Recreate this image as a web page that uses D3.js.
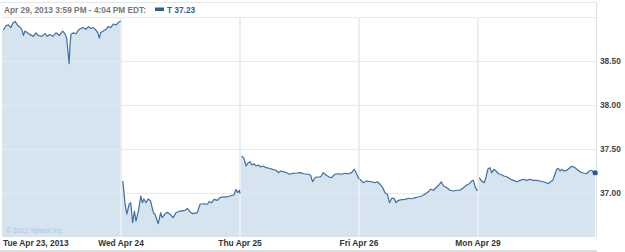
<!DOCTYPE html>
<html><head><meta charset="utf-8">
<script src="https://cdn.jsdelivr.net/npm/d3@7"></script>
<style>
html,body{margin:0;padding:0;background:#fff;}
svg{display:block;font-family:"Liberation Sans",Arial,sans-serif;}
</style></head>
<body><svg id="c" width="625" height="252"></svg>
<script>
// ---- data (minutes since 9:30 open, price) ----
const dayLabels = ["Tue Apr 23, 2013","Wed Apr 24","Thu Apr 25","Fri Apr 26","Mon Apr 29"];
const yTicks = [37.0, 37.5, 38.0, 38.5];
const headerText = "Apr 29, 2013 3:59 PM - 4:04 PM EDT:";
const symbol = "T";
const lastPrice = 37.23;
const copyright = "\u00A9 2013 Yahoo! Inc.";

const tue = [[4,38.85],[13,38.90],[21,38.91],[29,38.88],[35,38.93],[43,38.95],[50,38.91],[57,38.89],[65,38.86],[70,38.79],[75,38.84],[83,38.82],[92,38.80],[103,38.78],[111,38.82],[119,38.79],[130,38.78],[141,38.81],[148,38.78],[157,38.80],[166,38.78],[177,38.82],[188,38.79],[199,38.84],[206,38.81],[212,38.76],[215,38.65],[220,38.47],[223,38.69],[226,38.80],[234,38.82],[243,38.81],[250,38.85],[258,38.87],[266,38.88],[275,38.86],[283,38.89],[291,38.87],[299,38.88],[308,38.85],[314,38.82],[319,38.76],[323,38.82],[332,38.84],[341,38.86],[348,38.89],[356,38.88],[365,38.92],[374,38.91],[381,38.94],[389,38.95]];
const wed = [[6,37.136],[13,36.89],[19,36.761],[27,36.875],[32,36.89],[38,36.662],[44,36.795],[49,36.682],[57,36.795],[65,36.966],[70,36.89],[75,36.932],[82,36.89],[89,36.932],[97,36.909],[106,36.776],[111,36.761],[122,36.651],[130,36.776],[135,36.719],[144,36.761],[152,36.781],[161,36.758],[171,36.719],[180,36.776],[193,36.795],[210,36.803],[217,36.826],[226,36.788],[235,36.765],[250,36.776],[259,36.872],[272,36.878],[283,36.872],[289,36.901],[297,36.89],[305,36.928],[316,36.917],[324,36.947],[335,36.955],[346,36.955],[357,36.966],[370,36.977],[377,37.042],[382,37.003],[388,37.031],[390,36.992]];
const thu = [[6,37.42],[13,37.394],[20,37.307],[27,37.344],[33,37.356],[39,37.318],[46,37.333],[52,37.307],[60,37.318],[68,37.295],[76,37.307],[85,37.288],[96,37.281],[107,37.269],[118,37.258],[126,37.231],[133,37.25],[142,37.242],[153,37.231],[162,37.213],[173,37.224],[186,37.227],[197,37.231],[210,37.219],[224,37.213],[231,37.205],[238,37.128],[246,37.174],[253,37.182],[264,37.182],[273,37.231],[282,37.205],[292,37.182],[300,37.174],[311,37.213],[322,37.219],[333,37.213],[344,37.224],[355,37.219],[366,37.231],[374,37.269],[379,37.242],[388,37.174],[390,37.156]];
const fri = [[3,37.156],[14,37.117],[25,37.136],[42,37.128],[52,37.117],[60,37.128],[69,37.099],[78,37.06],[85,37.003],[93,36.985],[100,36.89],[107,36.94],[115,36.94],[121,36.89],[129,36.917],[140,36.924],[151,36.928],[162,36.94],[173,36.935],[184,36.947],[194,36.955],[205,36.966],[216,36.985],[227,37.015],[235,37.042],[244,37.031],[255,37.068],[263,37.099],[270,37.125],[277,37.08],[288,37.06],[298,37.031],[309,37.023],[320,37.031],[331,37.031],[342,37.06],[353,37.091],[362,37.106],[369,37.136],[375,37.144],[380,37.08],[386,37.031],[390,37.031]];
const mon = [[4,37.174],[12,37.136],[20,37.117],[26,37.174],[32,37.269],[39,37.288],[45,37.231],[52,37.269],[59,37.25],[67,37.219],[74,37.213],[85,37.193],[96,37.182],[107,37.156],[116,37.144],[127,37.128],[138,37.144],[148,37.156],[160,37.144],[170,37.156],[181,37.144],[192,37.144],[203,37.136],[214,37.128],[223,37.117],[231,37.106],[238,37.128],[245,37.144],[252,37.213],[258,37.269],[263,37.281],[269,37.25],[274,37.269],[282,37.25],[291,37.258],[299,37.281],[307,37.303],[315,37.295],[324,37.269],[334,37.242],[345,37.227],[356,37.219],[365,37.25],[373,37.258],[380,37.231],[384,37.23]];
const days = [tue, wed, thu, fri, mon];

// ---- drawing ----
const SESSION = 390;
const svg = d3.select("#c");
const x = d3.scaleLinear().domain([0, SESSION * days.length]).range([2, 597]);
const y = d3.scaleLinear().domain([36.5, 39.0]).range([237, 17]);
const grid = "#e3eaf1";

// frame
svg.append("line").attr("x1",0).attr("x2",597).attr("y1",2.5).attr("y2",2.5).attr("stroke","#e1e7ed");
svg.append("line").attr("x1",596.5).attr("x2",596.5).attr("y1",2).attr("y2",237).attr("stroke","#d9e1e9");

const area = d3.area().x(d=>d[0]).y0(y(36.5)).y1(d=>d[1]);
const line = d3.line().x(d=>d[0]).y(d=>d[1]);

days.forEach((pts,i)=>{
  const p = pts.map(d=>[x(i*SESSION + d[0]), y(d[1])]);
  const full = [[x(i*SESSION), p[0][1]], ...p, [x((i+1)*SESSION), p[p.length-1][1]]];
  if (i === days.length-1) full.pop();
  svg.append("path").attr("d", area(full)).attr("fill","#d6e4f0");
});

// gridlines
[...yTicks, 39.0].forEach(v=>{
  svg.append("line").attr("x1",2).attr("x2",596).attr("y1",Math.round(y(v))+0.5).attr("y2",Math.round(y(v))+0.5)
    .attr("stroke",grid).attr("stroke-width",1);
});
// day dividers
for (let i=1;i<days.length;i++){
  const xv = Math.round(x(i*SESSION));
  svg.append("line").attr("x1",xv).attr("x2",xv).attr("y1",17).attr("y2",237)
    .attr("stroke","#e8eef4").attr("stroke-width",2);
}

// lines
days.forEach((pts,i)=>{
  const p = pts.map(d=>[x(i*SESSION + d[0]), y(d[1])]);
  svg.append("path").attr("d", line(p)).attr("fill","none")
    .attr("stroke","#3c6fa6").attr("stroke-width",1.2).attr("stroke-linejoin","round");
});
// last point
const lastDay = days[days.length-1];
const lp = lastDay[lastDay.length-1];
svg.append("circle").attr("cx", x((days.length-1)*SESSION + lp[0])).attr("cy", y(lp[1])).attr("r",2.6).attr("fill","#2b5b8f");

// header
svg.append("text").attr("x",4).attr("y",12.5).attr("font-size","8.3px").attr("font-weight","bold")
  .attr("fill","#777").text(headerText);
svg.append("rect").attr("x",155).attr("y",7.5).attr("width",9).attr("height",3.5).attr("fill","#2c5f97");
svg.append("text").attr("x",167).attr("y",12.5).attr("font-size","8.3px").attr("font-weight","bold")
  .attr("fill","#2c5f97").text(symbol + " " + lastPrice.toFixed(2));

// copyright
svg.append("text").attr("x",6).attr("y",233).attr("font-size","6.8px").attr("fill","#b3c2d0").text(copyright);

// y labels
yTicks.forEach(v=>{
  svg.append("text").attr("x",600).attr("y",y(v)).attr("dy","0.35em").attr("font-size","8.3px")
    .attr("font-weight","bold").attr("fill","#444").text(v.toFixed(2));
});

// x labels
dayLabels.forEach((t,i)=>{
  const tx = svg.append("text").attr("y",246).attr("font-size","8.4px").attr("font-weight","bold").attr("fill","#333").text(t);
  if (i===0) tx.attr("x",3).attr("text-anchor","start");
  else tx.attr("x", x(i*SESSION)).attr("text-anchor","middle");
});

// bottom band
svg.append("rect").attr("x",0).attr("y",250).attr("width",597).attr("height",2).attr("fill","#dedede");
</script></body></html>
